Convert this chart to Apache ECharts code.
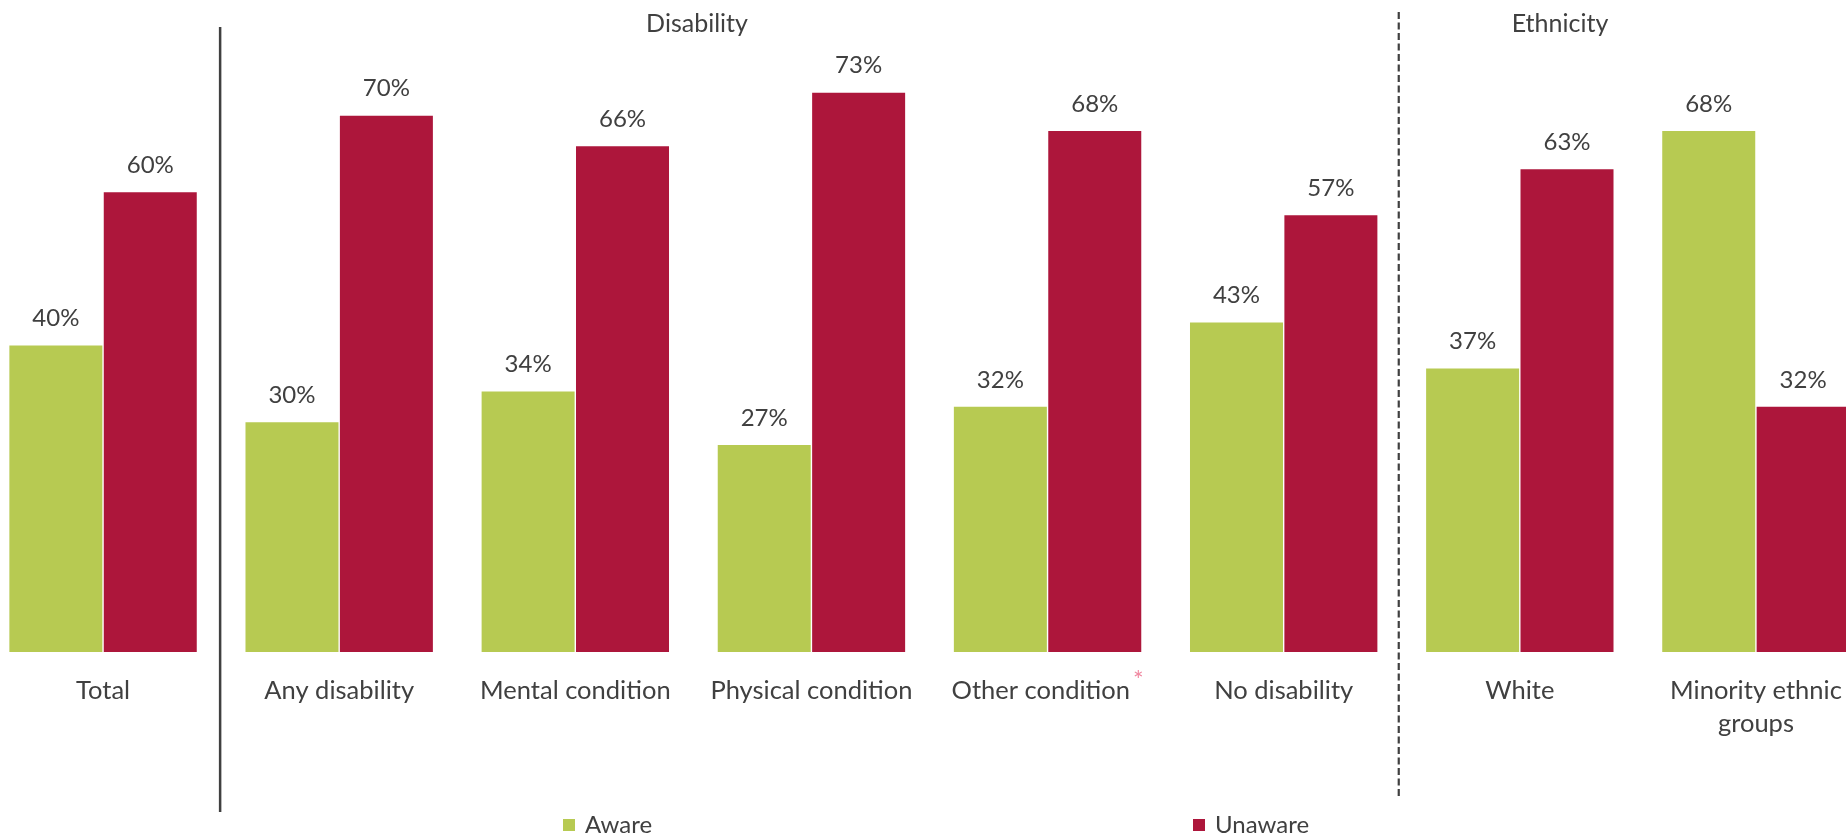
<!DOCTYPE html>
<html>
<head>
<meta charset="utf-8">
<script src="https://cdn.jsdelivr.net/npm/echarts@6/dist/echarts.min.js"></script>
<style>
  html, body { margin: 0; padding: 0; background: #ffffff; overflow: hidden; width: 1846px; height: 836px; position: relative; }
  #chart { position: absolute; left: -15px; top: 0; width: 1889px; height: 836px; }
</style>
</head>
<body>
<div id="chart"></div>
<script>
const categories = ['Total', 'Any disability', 'Mental condition', 'Physical condition', 'Other condition', 'No disability', 'White', 'Minority ethnic\ngroups'];
const aware = [40, 30, 34, 27, 32, 43, 37, 68];
const unaware = [60, 70, 66, 73, 68, 57, 63, 32];
const seriesNames = ['Aware', 'Unaware'];
const groupTitles = ['Disability', 'Ethnicity'];

const FONT = 'Lato';
const TEXT = '#404040';
const GREEN = '#B7CA52';
const RED = '#AD163B';
const OFFSET = 15; // container shifted left so the plot bleeds off both edges

const chart = echarts.init(document.getElementById('chart'), null, { renderer: 'canvas' });

const labelStyle = {
  show: true,
  position: 'top',
  distance: 15,
  color: TEXT,
  fontFamily: FONT,
  fontSize: 24,
  formatter: p => p.value + '%'
};

chart.setOption({
  animation: false,
  backgroundColor: '#ffffff',
  grid: { left: 0, right: 0, top: 39, bottom: 184, containLabel: false },
  legend: [
    { data: [seriesNames[0]], left: 563 + OFFSET, top: 813, padding: 0, icon: 'rect', itemWidth: 12, itemHeight: 12,
      textStyle: { color: TEXT, fontFamily: FONT, fontSize: 24, padding: [0, 0, 0, 5] } },
    { data: [seriesNames[1]], left: 1193 + OFFSET, top: 813, padding: 0, icon: 'rect', itemWidth: 12, itemHeight: 12,
      textStyle: { color: TEXT, fontFamily: FONT, fontSize: 24, padding: [0, 0, 0, 5] } }
  ],
  xAxis: {
    type: 'category',
    data: categories,
    axisLine: { show: false },
    axisTick: { show: false },
    splitLine: { show: false },
    axisLabel: {
      interval: 0,
      margin: 22,
      color: TEXT,
      fontFamily: FONT,
      fontSize: 25.5,
      lineHeight: 33,
      formatter: v => v === 'Other condition' ? v + '{ast|*}' : v,
      rich: {
        ast: { color: '#F0869F', fontFamily: FONT, fontSize: 25, padding: [0, 0, 20, 3] }
      }
    }
  },
  yAxis: { type: 'value', min: 0, max: 80, show: false, splitLine: { show: false } },
  series: [
    { name: seriesNames[0], type: 'bar', data: aware, barWidth: 93, barGap: '1.5%',
      itemStyle: { color: GREEN }, label: labelStyle },
    { name: seriesNames[1], type: 'bar', data: unaware, barWidth: 93, barGap: '1.5%',
      itemStyle: { color: RED }, label: labelStyle }
  ]
});

// separators between category groups, computed from axis positions
const c0 = chart.convertToPixel({ xAxisIndex: 0 }, categories[0]);
const c1 = chart.convertToPixel({ xAxisIndex: 0 }, categories[1]);
const c5 = chart.convertToPixel({ xAxisIndex: 0 }, categories[5]);
const c6 = chart.convertToPixel({ xAxisIndex: 0 }, categories[6]);
const xSolid = (c0 + c1) / 2 - 1;
const xDash = (c5 + c6) / 2 - 3;

chart.setOption({
  graphic: [
    { type: 'line', shape: { x1: xSolid, y1: 27, x2: xSolid, y2: 812 },
      style: { stroke: TEXT, lineWidth: 2.5 } },
    { type: 'line', shape: { x1: xDash, y1: 12, x2: xDash, y2: 798 },
      style: { stroke: TEXT, lineWidth: 2.2, lineDash: [7, 3.5] } },
    { type: 'text', x: 697 + OFFSET, y: 24, style: { text: groupTitles[0], align: 'center', verticalAlign: 'middle',
      fill: TEXT, font: '25px ' + FONT } },
    { type: 'text', x: 1560 + OFFSET, y: 24, style: { text: groupTitles[1], align: 'center', verticalAlign: 'middle',
      fill: TEXT, font: '25px ' + FONT } }
  ]
});
</script>
</body>
</html>
